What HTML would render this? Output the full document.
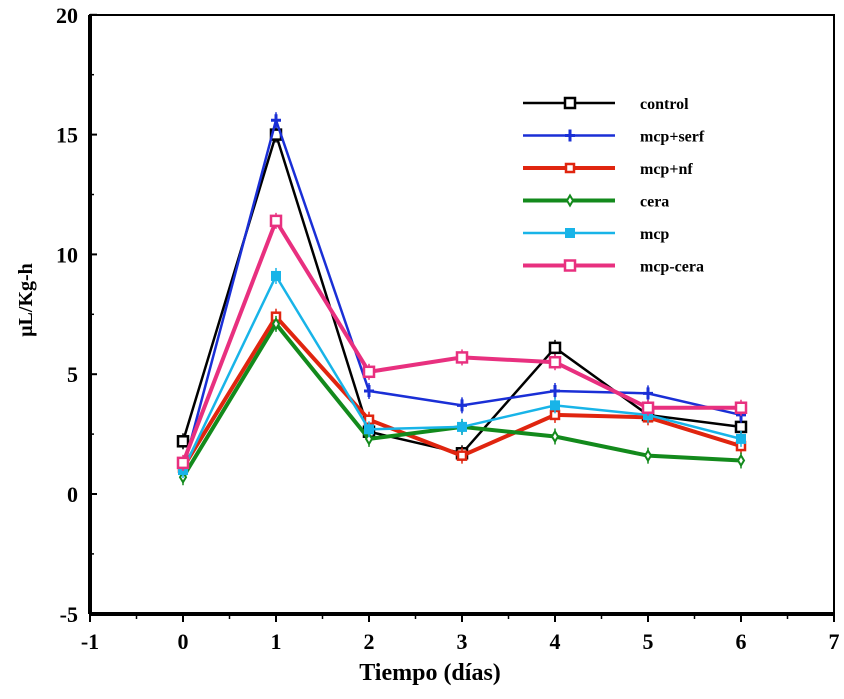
<!DOCTYPE html>
<html><head><meta charset="utf-8"><style>
body{margin:0;background:#fff;width:844px;height:694px;overflow:hidden}
svg text{font-family:"Liberation Serif",serif;font-weight:bold}
</style></head><body>
<svg id="chart" width="844" height="694"></svg>
<script>
const days=[0,1,2,3,4,5,6];
const seriesNames=["control","mcp+serf","mcp+nf","cera","mcp","mcp-cera"];
const control=[2.2,15.0,2.6,1.7,6.1,3.3,2.8];
const mcpSerf=[1.0,15.6,4.3,3.7,4.3,4.2,3.3];
const mcpNf=[1.1,7.4,3.1,1.6,3.3,3.2,2.0];
const cera=[0.7,7.1,2.3,2.8,2.4,1.6,1.4];
const mcp=[1.0,9.1,2.7,2.8,3.7,3.3,2.3];
const mcpCera=[1.3,11.4,5.1,5.7,5.5,3.6,3.6];
const xTicks=[-1,0,1,2,3,4,5,6,7];
const yTicks=[-5,0,5,10,15,20];
const allSeries=[control,mcpSerf,mcpNf,cera,mcp,mcpCera];
const colors=["#000","#1a2fd6","#e0250f","#138a1c","#18b4e8","#e8307f"];
const widths=[2.5,2.5,4,4,2.5,4];
const markers=["sqopen","plus","sqsmall","diamond","sqfill","sqopen"];
const X=v=>90+(v+1)*93, Y=v=>494-v*23.96;
const svg=document.getElementById('chart');
const NS="http://www.w3.org/2000/svg";
function mk(t,a,p){const e=document.createElementNS(NS,t);for(const k in a)e.setAttribute(k,a[k]);(p||svg).appendChild(e);return e;}
let e=mk('rect',{x:90,y:15,width:744,height:599,fill:'none',stroke:'#000','stroke-width':2});


mk('line',{x1:90,y1:15,x2:90,y2:614,stroke:'#000','stroke-width':4});
mk('line',{x1:90,y1:614,x2:834,y2:614,stroke:'#000','stroke-width':4});
xTicks.forEach((t,i)=>{
 mk('line',{x1:X(t),y1:614,x2:X(t),y2:622,stroke:'#000','stroke-width':2});
 if(i<xTicks.length-1) mk('line',{x1:X(t+0.5),y1:614,x2:X(t+0.5),y2:619,stroke:'#000','stroke-width':1.5});
 const tx=mk('text',{x:X(t),y:649,'text-anchor':'middle','font-size':22});tx.textContent=t;
 
 
});
yTicks.forEach((t,i)=>{
 mk('line',{x1:90,y1:Y(t),x2:97,y2:Y(t),stroke:'#000','stroke-width':2});
 if(i<yTicks.length-1) mk('line',{x1:90,y1:Y(t+2.5),x2:94,y2:Y(t+2.5),stroke:'#000','stroke-width':1.5});
 const tx=mk('text',{x:78,y:Y(t)+8,'text-anchor':'end','font-size':22});tx.textContent=t;
 
 
});
let xt=mk('text',{x:430,y:680,'text-anchor':'middle','font-size':24});xt.textContent="Tiempo (días)";


let yt=mk('text',{x:0,y:0,'text-anchor':'middle','font-size':20,transform:'translate(32,300) rotate(-90)'});yt.textContent="μL/Kg-h";


function marker(type,cx,cy,c,g){
 if(type==='sqopen')mk('rect',{x:cx-5,y:cy-5,width:10,height:10,fill:'#fff',stroke:c,'stroke-width':2.5},g);
 else if(type==='sqsmall')mk('rect',{x:cx-4,y:cy-4,width:8,height:8,fill:'#fff',stroke:c,'stroke-width':2.5},g);
 else if(type==='sqfill')mk('rect',{x:cx-5,y:cy-5,width:10,height:10,fill:c},g);
 else if(type==='plus'){mk('path',{d:`M${cx-5} ${cy}H${cx+5}M${cx} ${cy-6}V${cy+6}`,stroke:c,'stroke-width':3},g);}
 else if(type==='diamond')mk('path',{d:`M${cx} ${cy-5}L${cx+3} ${cy}L${cx} ${cy+5}L${cx-3} ${cy}Z`,fill:'#fff',stroke:c,'stroke-width':2},g);
}
allSeries.forEach((s,i)=>{
 const g=mk('g',{});
 
 
 mk('polyline',{points:s.map((v,j)=>X(days[j])+','+Y(v)).join(' '),fill:'none',stroke:colors[i],'stroke-width':widths[i]},g);
 s.forEach((v,j)=>{
  mk('line',{x1:X(days[j]),y1:Y(v)-8,x2:X(days[j]),y2:Y(v)+8,stroke:colors[i],'stroke-width':1.5},g);
  marker(markers[i],X(days[j]),Y(v),colors[i],g);
 });
 const ly=103+i*32.5;
 const lg=mk('g',{});
 
 
 mk('line',{x1:523,y1:ly,x2:615,y2:ly,stroke:colors[i],'stroke-width':widths[i]},lg);
 marker(markers[i],570,ly,colors[i],lg);
 const t=mk('text',{x:640,y:ly+6,'font-size':16,'font-weight':'normal'},lg);t.textContent=seriesNames[i];
});
</script>
</body></html>
